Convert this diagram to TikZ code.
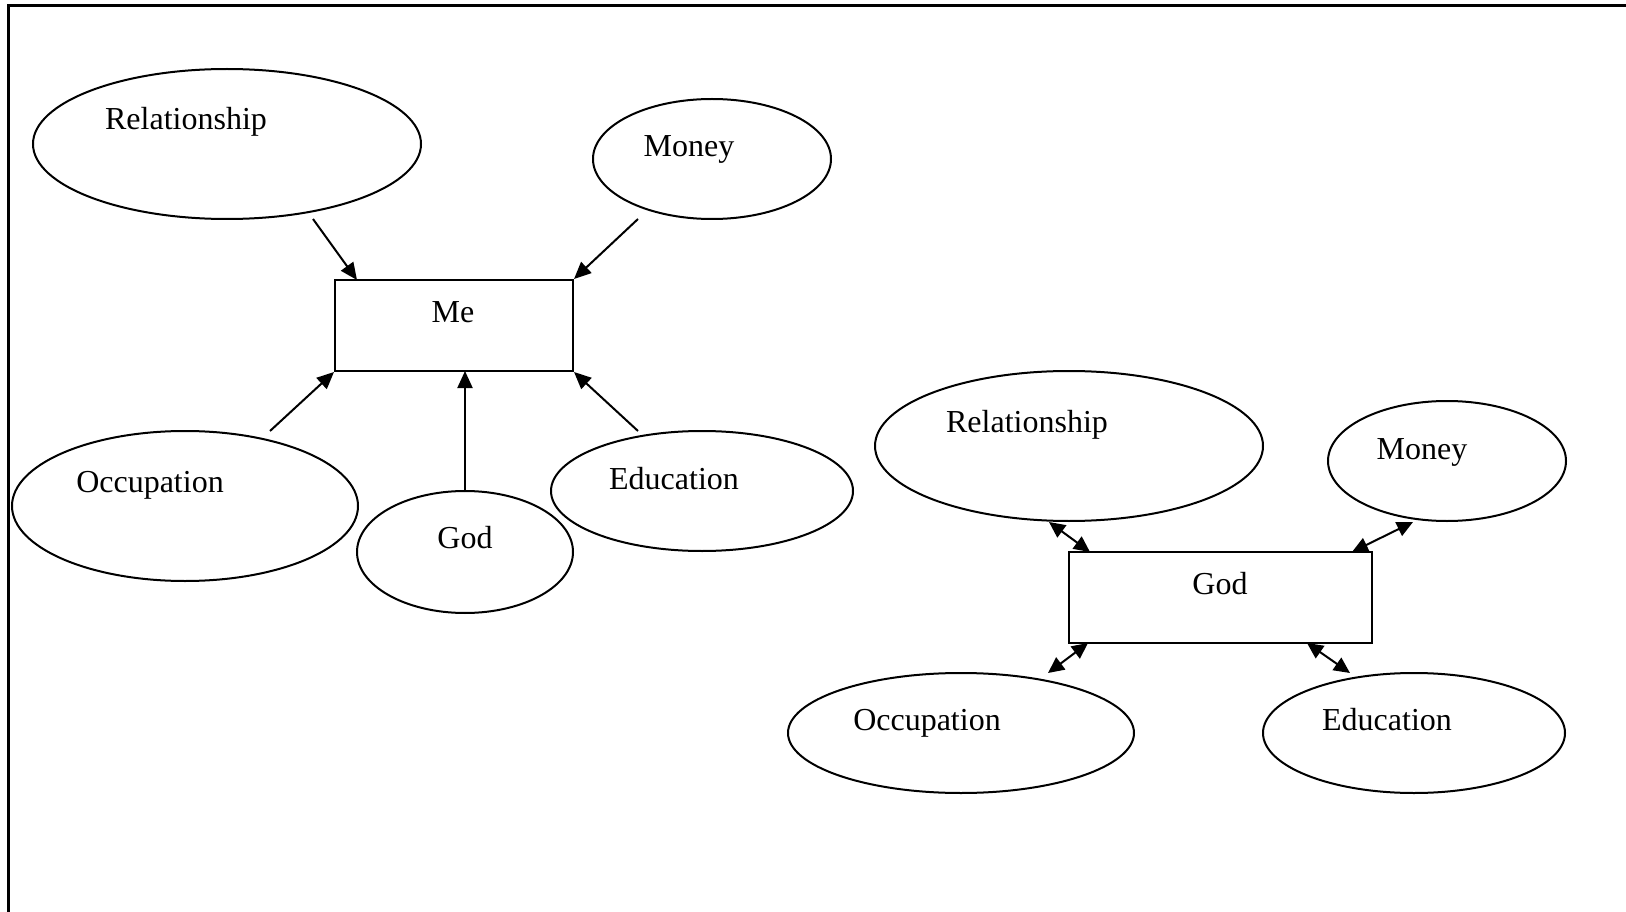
\documentclass[tikz,border=0pt]{standalone}
\usepackage{fontspec}
\setmainfont{Liberation Serif}
\usetikzlibrary{shapes.geometric,arrows.meta}
\begin{document}
\begin{tikzpicture}[x=1pt,y=-1pt,
  oval/.style={draw,line width=2pt,ellipse,inner sep=0pt},
  boxnode/.style={draw,line width=2pt,rectangle,inner sep=0pt},
  lbl/.style={font=\fontsize{32}{38}\selectfont,inner sep=0pt,anchor=center},
  arr/.style={line width=2pt,-{Triangle[length=17pt,width=15pt]}},
  darr/.style={line width=2pt,{Triangle[length=16pt,width=15pt]}-{Triangle[length=16pt,width=15pt]}}]
\useasboundingbox (0,0) rectangle (1626,912);
% frame
\draw[line width=3pt] (8,912) -- (8,6) -- (1626,6);
% left diagram
\node[oval,minimum width=388pt,minimum height=150pt] (rel1) at (227,144) {};
\node[lbl] (rel1t) at (186,122) {Relationship};
\node[oval,minimum width=238pt,minimum height=120pt] (mon1) at (712,159) {};
\node[lbl] (mon1t) at (689,149) {Money};
\node[boxnode,minimum width=238pt,minimum height=91pt] (me) at (454,325.5) {};
\node[lbl] (met) at (453,312) {Me};
\node[oval,minimum width=346pt,minimum height=150pt] (occ1) at (185,506) {};
\node[lbl] (occ1t) at (150,485) {Occupation};
\node[oval,minimum width=216pt,minimum height=122pt] (god1) at (465,552) {};
\node[lbl] (god1t) at (465,538) {God};
\node[oval,minimum width=302pt,minimum height=120pt] (edu1) at (702,491) {};
\node[lbl] (edu1t) at (674,479) {Education};
\coordinate (a1s) at (313,219);
\coordinate (a1e) at (357,280);
\coordinate (a2s) at (638,219);
\coordinate (a3s) at (270,431);
\coordinate (a4s) at (465,492);
\coordinate (a4e) at (465,371);
\coordinate (a5s) at (638,431);
\draw[arr] (a1s) -- (a1e);
\draw[arr] (a2s) -- (me.north east);
\draw[arr] (a3s) -- (me.south west);
\draw[arr] (a4s) -- (a4e);
\draw[arr] (a5s) -- (me.south east);
% right diagram
\node[oval,minimum width=388pt,minimum height=150pt] (rel2) at (1069,446) {};
\node[lbl] (rel2t) at (1027,425) {Relationship};
\node[oval,minimum width=238pt,minimum height=120pt] (mon2) at (1447,461) {};
\node[lbl] (mon2t) at (1422,452) {Money};
\node[boxnode,minimum width=303pt,minimum height=91pt] (god2) at (1220.5,597.5) {};
\node[lbl] (god2t) at (1220,584) {God};
\node[oval,minimum width=346pt,minimum height=120pt] (occ2) at (961,733) {};
\node[lbl] (occ2t) at (927,723) {Occupation};
\node[oval,minimum width=302pt,minimum height=120pt] (edu2) at (1414,733) {};
\node[lbl] (edu2t) at (1387,720) {Education};
\coordinate (b1s) at (1049,522);
\coordinate (b1e) at (1090,552);
\coordinate (b2s) at (1413,522);
\coordinate (b2e) at (1352,552);
\coordinate (b3s) at (1048,673);
\coordinate (b3e) at (1088,643);
\coordinate (b4s) at (1350,673);
\coordinate (b4e) at (1307,643);
\draw[darr] (b1s) -- (b1e);
\draw[darr] (b2s) -- (b2e);
\draw[darr] (b3s) -- (b3e);
\draw[darr] (b4s) -- (b4e);
\end{tikzpicture}
\end{document}
